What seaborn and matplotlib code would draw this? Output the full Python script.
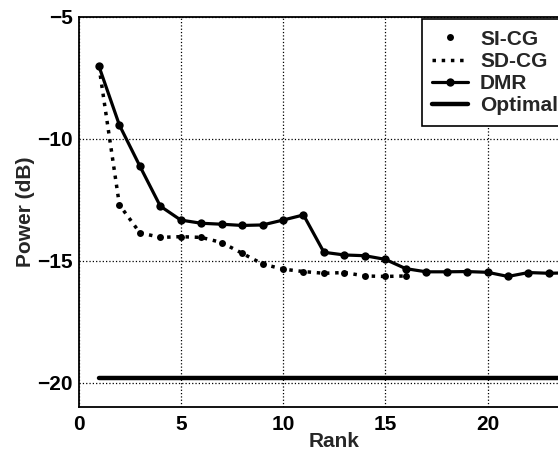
import matplotlib
matplotlib.use("Agg")
import matplotlib.pyplot as plt
import seaborn as sns

# ---- data ----
rank = list(range(1, 25))
dmr_power = [-7.04, -9.45, -11.13, -12.77, -13.34, -13.47, -13.51, -13.56, -13.54, -13.34,
             -13.13, -14.66, -14.77, -14.80, -14.95, -15.33, -15.46, -15.46, -15.45, -15.48,
             -15.65, -15.49, -15.52, -15.50]
cg_rank = list(range(1, 17))
sicg_power = [-7.04, -12.72, -13.86, -14.05, -14.02, -14.05, -14.26, -14.70, -15.14, -15.35,
              -15.45, -15.52, -15.49, -15.63, -15.65, -15.63]
sdcg_power = sicg_power
optimal_rank = [1, 25]
optimal_power = [-19.82, -19.82]
x_ticks = [0, 5, 10, 15, 20]
y_ticks = [-20, -15, -10, -5]

sns.set_style("white")
plt.rcParams['font.family'] = ['Liberation Sans', 'DejaVu Sans']
plt.rcParams['font.weight'] = 'bold'
plt.rcParams['font.size'] = 15

fig = plt.figure(figsize=(5.58, 4.53), dpi=100)
ax = fig.add_axes([0.1407, 0.1015, 0.9163, 0.862])

sns.lineplot(x=cg_rank, y=sicg_power, ax=ax, color='black', linestyle='', marker='o',
             markersize=5, markeredgewidth=0, label='SI-CG')
sns.lineplot(x=cg_rank, y=sdcg_power, ax=ax, color='black', linestyle=':', linewidth=2.5,
             label='SD-CG')
sns.lineplot(x=rank, y=dmr_power, ax=ax, color='black', linestyle='-', linewidth=2.3,
             marker='o', markersize=6, markeredgewidth=0, label='DMR')
sns.lineplot(x=optimal_rank, y=optimal_power, ax=ax, color='black', linestyle='-',
             linewidth=3.2, label='Optimal')

ax.set_xlim(0, 25)
ax.set_ylim(-21, -5)
ax.set_xticks(x_ticks)
ax.set_yticks(y_ticks)
ax.grid(True, color='black', linestyle=':', linewidth=0.9)
for s in ax.spines.values():
    s.set_color('black')
    s.set_linewidth(1.3)
ax.tick_params(direction='in', length=4, width=1, colors='black', labelsize=15)
ax.tick_params(axis='x', pad=6)
ax.tick_params(axis='y', pad=4)
ax.set_xlabel('Rank', fontsize=15, fontweight='bold', labelpad=-2)
ax.set_ylabel('Power (dB)', fontsize=15, fontweight='bold', labelpad=2)

leg = ax.legend(loc='upper left', bbox_to_anchor=(421.7/558, 1 - 19.3/453),
                bbox_transform=fig.transFigure, frameon=True, fancybox=False,
                edgecolor='black', framealpha=1, fontsize=15, handlelength=1.7,
                handletextpad=0.6, labelspacing=0.15, borderpad=0.5, borderaxespad=0)
leg.get_frame().set_linewidth(1.2)

fig.savefig('out.png', dpi=100)
